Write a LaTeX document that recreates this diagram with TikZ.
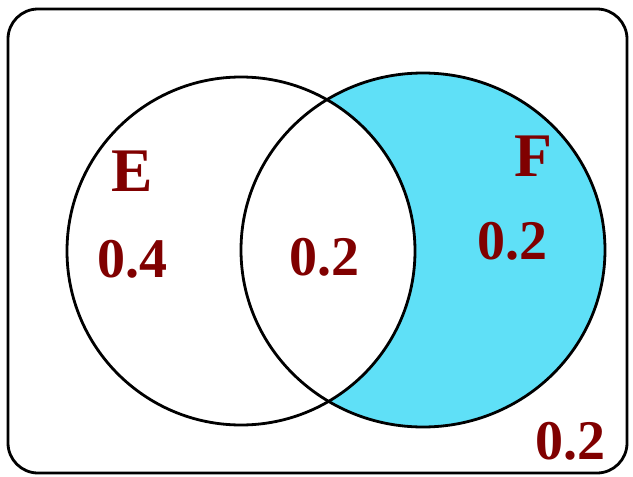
\documentclass[tikz,border=0pt]{standalone}
\usepackage{fontspec}
\setmainfont{Liberation Serif}
\usepackage{xcolor}
\usepackage{tikz}
\usetikzlibrary{positioning}

\definecolor{setred}{HTML}{800000}
\definecolor{setcyan}{HTML}{5FE0F7}

\begin{document}
\begin{tikzpicture}[
    x=1pt, y=-1pt,
    universe/.style={draw=black, line width=2.8pt, rounded corners=30pt},
    setcircle/.style={draw=black, line width=2.8pt},
    setname/.style={text=setred, font=\fontsize{62}{64}\selectfont\bfseries, inner sep=0pt},
    prob/.style={text=setred, font=\fontsize{56}{58}\selectfont\bfseries, inner sep=0pt}
]
\useasboundingbox (0,0) rectangle (633,477);

% Sample space
\draw[universe] (8,9) rectangle (627,473);

% Shaded region: F but not E
\fill[setcyan] (423,250) ellipse [x radius=182, y radius=177];
\fill[white] (241,251) circle [radius=174];

% Set outlines
\draw[setcircle] (241,251) circle [radius=174];
\draw[setcircle] (423,250) ellipse [x radius=182, y radius=177];

% Set names
\node[setname] (E) at (132,171) {E};
\node[setname] (F) at (533,156) {F};

% Probabilities
\node[prob] (onlyE) at (132,259) {0.4};
\node[prob] (both) at (324,257) {0.2};
\node[prob] (onlyF) at (512,241) {0.2};
\node[prob] (neither) at (570,441) {0.2};

\end{tikzpicture}
\end{document}
